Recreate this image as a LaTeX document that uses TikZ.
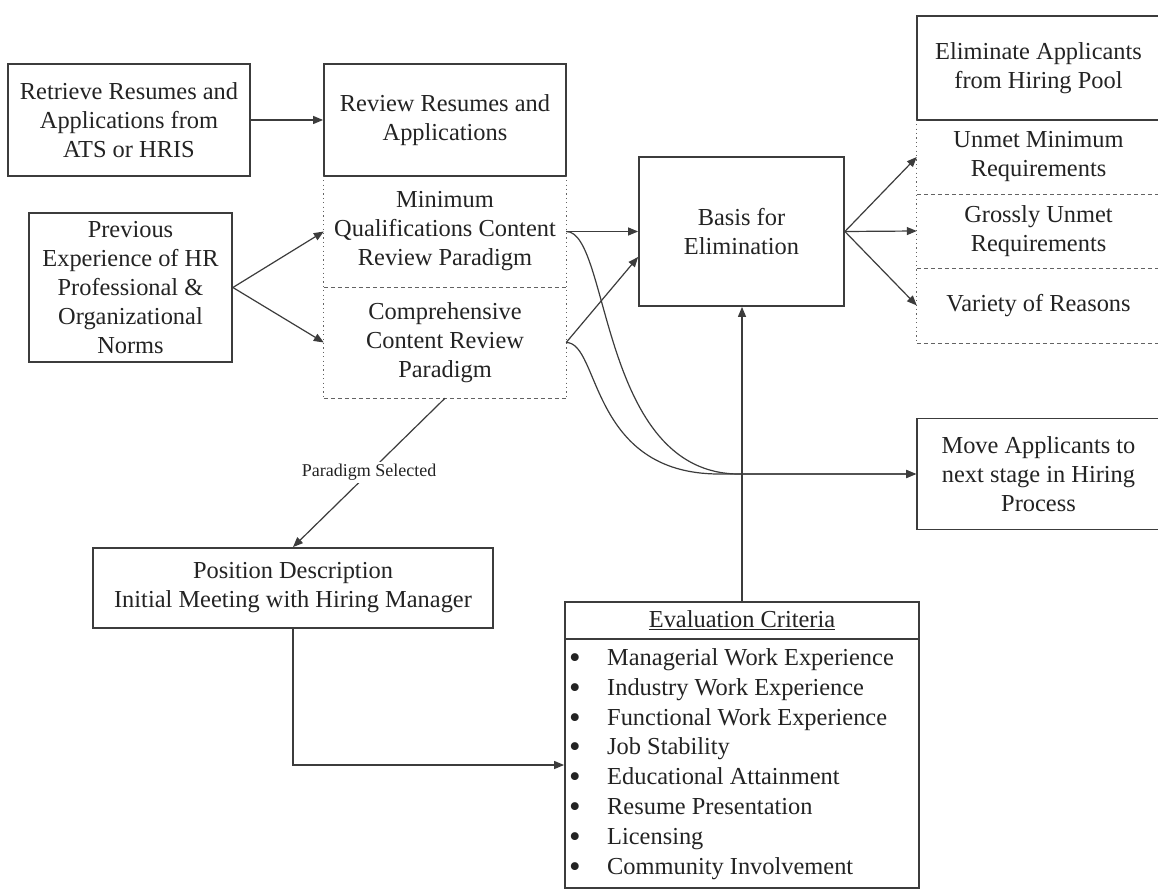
\documentclass[tikz,border=0pt]{standalone}
\usepackage{fontspec}
\setmainfont{Liberation Serif}
\usetikzlibrary{arrows.meta,calc}
\definecolor{linec}{HTML}{3C3C3C}
\definecolor{textc}{HTML}{232323}
\newcommand{\bigbul}{\makebox[38pt][l]{\smash{\raisebox{-3pt}{\scalebox{1.35}{\textbullet}}}}}
\begin{document}
\begin{tikzpicture}[x=1pt,y=-1pt,
  every node/.style={text=textc},
  font=\fontsize{24.4}{29}\selectfont,
  box/.style={draw=linec,line width=1.8pt,align=center,inner sep=0pt},
  area/.style={align=center,inner sep=0pt},
  arr/.style={draw=linec,line width=1.2pt,-{Triangle[length=10pt,width=8pt]}},
  dotline/.style={draw=linec!80,line width=1pt,dash pattern=on 1.2pt off 3.2pt},
  dashline/.style={draw=linec!80,line width=1pt,dash pattern=on 4pt off 3pt}]
\useasboundingbox[fill=white] (0,0) rectangle (1158,890);

% left column
\node[box,minimum width=242pt,minimum height=112pt] (retrieve) at (129,120) {Retrieve Resumes and\\Applications from\\ATS or HRIS};
\node[box,minimum width=203pt,minimum height=149pt] (prev) at (130.5,287.5) {Previous\\Experience of HR\\Professional \&\\Organizational\\Norms};

% review column
\node[box,minimum width=242pt,minimum height=112pt] (review) at (445,120) {Review Resumes and\\Applications};
\node[area,minimum width=242pt,minimum height=111pt] (minq) at (445,231.5) {Minimum\\Qualifications Content\\Review Paradigm};
\node[area,minimum width=242pt,minimum height=111pt] (comp) at (445,342.5) {Comprehensive\\Content Review\\Paradigm};
\draw[dotline] (minq.north west) -- (comp.south west);
\draw[dotline] (minq.north east) -- (comp.south east);
\draw[dashline] (minq.south west) -- (minq.south east);
\draw[dashline] (comp.south west) -- (comp.south east);

% basis
\node[box,minimum width=205pt,minimum height=149pt] (basis) at (741.5,231.5) {Basis for\\Elimination};

% right column
\node[box,minimum width=243pt,minimum height=104pt] (elim) at (1038.5,68) {Eliminate Applicants\\from Hiring Pool};
\node[area,minimum width=243pt,minimum height=74pt] (unmet) at (1038.5,157) {Unmet Minimum\\Requirements};
\node[area,minimum width=243pt,minimum height=74pt] (gross) at (1038.5,231) {Grossly Unmet\\Requirements};
\node[area,minimum width=243pt,minimum height=75pt] (variety) at (1038.5,305.5) {Variety of Reasons};
\draw[dotline] (unmet.north west) -- (variety.south west);
\draw[dashline] (unmet.south west) -- (unmet.south east);
\draw[dashline] (gross.south west) -- (gross.south east);
\draw[dashline] (variety.south west) -- (variety.south east);

\node[box,minimum width=243pt,minimum height=111pt] (move) at (1038.5,474) {Move Applicants to\\next stage in Hiring\\Process};

% position
\node[box,minimum width=400pt,minimum height=80pt] (pos) at (293,588) {Position Description\\Initial Meeting with Hiring Manager};

% evaluation
\node[box,minimum width=354pt,minimum height=286pt] (eval) at (742,745) {};
\node[area] (evalhead) at (742,620) {\underline{Evaluation Criteria}};
\coordinate (divy) at (742,639);
\draw[draw=linec,line width=1.5pt] (eval.west |- divy) -- (eval.east |- divy);
\node[area,align=left,anchor=west,font=\fontsize{24.4}{29.8}\selectfont] (evallist) at (569,764) {%
\bigbul Managerial Work Experience\\
\bigbul Industry Work Experience\\
\bigbul Functional Work Experience\\
\bigbul Job Stability\\
\bigbul Educational Attainment\\
\bigbul Resume Presentation\\
\bigbul Licensing\\
\bigbul Community Involvement};

% connectors
\draw[arr] (retrieve.east) -- (review.west);
\draw[arr] (prev.east) -- (minq.west);
\draw[arr] (prev.east) -- (comp.west);
\draw[arr] (minq.east) -- (minq.east -| basis.west);
\draw[arr] (comp.east) -- ($(basis.west)+(0,25.5)$);
\draw[arr] (basis.east) -- (unmet.west);
\draw[arr] (basis.east) -- (gross.west);
\draw[arr] (basis.east) -- (variety.west);
\draw[arr] (minq.east) .. controls +(44,0) and +(-140,0) .. ($(move.west)+(-177,0)$) -- (move.west);
\draw[arr] (comp.east) .. controls +(34,0) and +(-130,0) .. ($(move.west)+(-197,0)$) -- (move.west);
\draw[arr] (eval.north) -- (eval.north |- basis.south);
\draw[arr] (pos.south) |- ([yshift=-20pt]eval.west);
\draw[arr] (comp.south) -- node[fill=white,inner sep=2pt,font=\fontsize{18}{20}\selectfont] (plabel) {Paradigm Selected} (pos.north);
\end{tikzpicture}
\end{document}
